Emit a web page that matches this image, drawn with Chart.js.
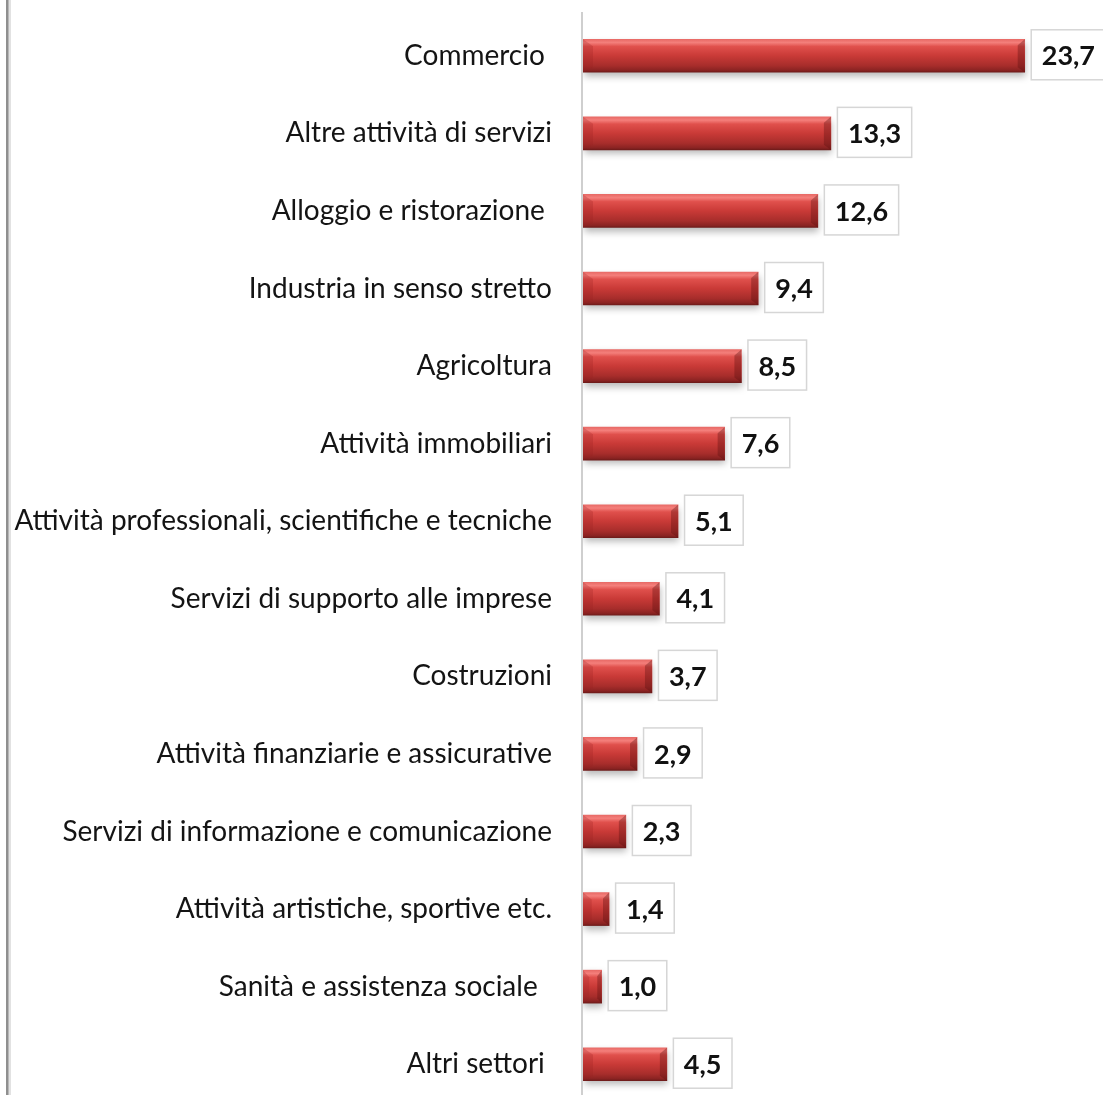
<!DOCTYPE html>
<html lang="it">
<head>
<meta charset="utf-8">
<title>Imprese per settore</title>
<script src="https://cdn.jsdelivr.net/npm/chart.js@4/dist/chart.umd.min.js"></script>
<style>
  html, body { margin: 0; padding: 0; background: #ffffff; overflow: hidden; }
  #wrap { width: 1103px; height: 1110px; }
</style>
</head>
<body>
<div id="wrap"><canvas id="chart" width="1103" height="1110"></canvas></div>
<script>
// Settori di attività e quota percentuale
const categories = [
  'Commercio ',
  'Altre attività di servizi',
  'Alloggio e ristorazione ',
  'Industria in senso stretto',
  'Agricoltura',
  'Attività immobiliari',
  'Attività professionali, scientifiche e tecniche',
  'Servizi di supporto alle imprese',
  'Costruzioni',
  'Attività finanziarie e assicurative',
  'Servizi di informazione e comunicazione',
  'Attività artistiche, sportive etc.',
  'Sanità e assistenza sociale  ',
  'Altri settori '
];
const values = [23.7, 13.3, 12.6, 9.4, 8.5, 7.6, 5.1, 4.1, 3.7, 2.9, 2.3, 1.4, 1.0, 4.5];

const FONT = 'Lato, "Open Sans", sans-serif';
const BAR_H = 33;

function fmt(v) { return v.toFixed(1).replace('.', ','); }

// Gradiente verticale della barra, calcolato sulla posizione della categoria
function barFill(c) {
  const chart = c.chart;
  const y = chart.scales && chart.scales.y;
  if (!y || c.dataIndex === undefined) return '#c23a36';
  const cy = y.getPixelForValue(c.dataIndex);
  if (!isFinite(cy)) return '#c23a36';
  const top = cy - BAR_H / 2;
  const g = chart.ctx.createLinearGradient(0, top, 0, top + BAR_H);
  g.addColorStop(0.00, '#e86a66');
  g.addColorStop(0.10, '#f47f7b');
  g.addColorStop(0.22, '#e0504c');
  g.addColorStop(0.50, '#c93a37');
  g.addColorStop(0.80, '#a72d2b');
  g.addColorStop(0.94, '#8a2322');
  g.addColorStop(1.00, '#6e1b1a');
  return g;
}

// Cornice sottile a sinistra e linea dell'asse verticale
const framePlugin = {
  id: 'frame',
  beforeDraw(chart) {
    const ctx = chart.ctx;
    const H = chart.height;
    ctx.save();
    ctx.fillStyle = '#8f8f8f'; ctx.fillRect(6, 0, 2, H);
    ctx.fillStyle = '#b8b8b8'; ctx.fillRect(8, 0, 1, H);
    ctx.fillStyle = '#e2e2e2'; ctx.fillRect(9, 0, 2, H);
    const x = chart.chartArea.left - 1;
    ctx.fillStyle = '#cfcfcf';
    ctx.fillRect(x - 1, 12, 2, H - 12);
    ctx.restore();
  }
};

// Ombra morbida sotto le barre
const shadowPlugin = {
  id: 'barShadow',
  beforeDatasetDraw(chart) {
    const ctx = chart.ctx;
    ctx.save();
    ctx.shadowColor = 'rgba(0,0,0,0.28)';
    ctx.shadowBlur = 7;
    ctx.shadowOffsetX = 1;
    ctx.shadowOffsetY = 4;
  },
  afterDatasetDraw(chart) {
    chart.ctx.restore();
  }
};

// Smussature alle estremità delle barre ed etichette dei valori in riquadro
const bevelLabelPlugin = {
  id: 'bevelLabels',
  afterDatasetsDraw(chart) {
    const ctx = chart.ctx;
    const meta = chart.getDatasetMeta(0);
    ctx.save();
    meta.data.forEach((bar, i) => {
      const p = bar.getProps(['x', 'y', 'base', 'height'], true);
      const top = p.y - p.height / 2;
      const bottom = p.y + p.height / 2;
      const left = p.base;
      const right = p.x;
      const len = right - left;
      const bv = Math.min(10, len / 3);

      // estremità sinistra
      ctx.beginPath();
      ctx.moveTo(left, top);
      ctx.lineTo(left + bv, top + 7);
      ctx.lineTo(left + bv, bottom - 5);
      ctx.lineTo(left, bottom);
      ctx.closePath();
      ctx.fillStyle = 'rgba(150,30,30,0.25)';
      ctx.fill();
      // estremità destra
      ctx.beginPath();
      ctx.moveTo(right, top);
      ctx.lineTo(right - bv * 0.7, top + 6);
      ctx.lineTo(right - bv * 0.7, bottom - 5);
      ctx.lineTo(right, bottom);
      ctx.closePath();
      ctx.fillStyle = 'rgba(90,15,15,0.35)';
      ctx.fill();

      // riquadro con il valore
      const txt = fmt(values[i]);
      ctx.font = 'bold 27px ' + FONT;
      const tw = ctx.measureText(txt).width;
      const padX = 10.5;
      const bw = tw + padX * 2;
      const bh = 50;
      const bx = right + 6.5;
      const by = p.y - bh / 2 - 1;
      ctx.fillStyle = '#ffffff';
      ctx.fillRect(bx, by, bw, bh);
      ctx.strokeStyle = '#d6d6d6';
      ctx.lineWidth = 1.5;
      ctx.strokeRect(bx, by, bw, bh);
      ctx.fillStyle = '#111111';
      ctx.textAlign = 'left';
      ctx.textBaseline = 'middle';
      ctx.fillText(txt, bx + padX, p.y + 1);
    });
    ctx.restore();
  }
};

new Chart(document.getElementById('chart'), {
  type: 'bar',
  data: {
    labels: categories,
    datasets: [{
      data: values,
      backgroundColor: barFill,
      borderWidth: 0,
      barThickness: BAR_H
    }]
  },
  options: {
    indexAxis: 'y',
    responsive: false,
    animation: false,
    devicePixelRatio: 1,
    layout: { padding: { left: 0, right: 0, top: 17, bottom: 7 } },
    plugins: {
      legend: { display: false },
      tooltip: { enabled: false }
    },
    scales: {
      x: {
        display: false,
        min: 0,
        max: 27.9
      },
      y: {
        grid: { display: false, drawTicks: false },
        border: { display: false },
        afterFit(scale) {
          scale.width = 583;
          scale.paddingTop = 0;
          scale.paddingBottom = 0;
        },
        ticks: {
          padding: 31,
          color: '#141414',
          font: { family: FONT, size: 28 },
          autoSkip: false
        }
      }
    }
  },
  plugins: [framePlugin, shadowPlugin, bevelLabelPlugin]
});
</script>
</body>
</html>
